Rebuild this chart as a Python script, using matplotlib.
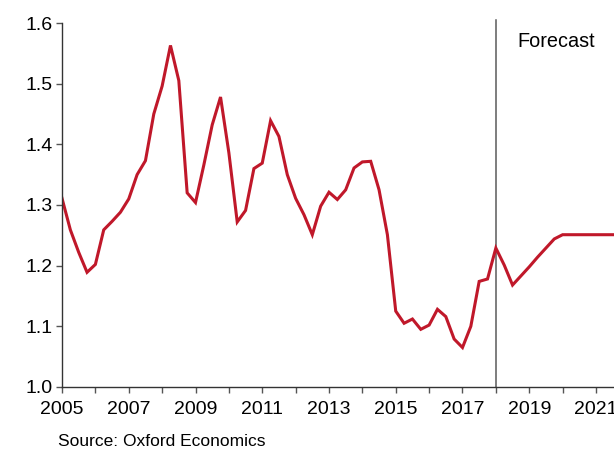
import numpy as np
import matplotlib.pyplot as plt
from matplotlib.ticker import MultipleLocator

plt.rcParams["font.family"] = ["Liberation Sans", "DejaVu Sans"]

# quarterly series, starting 2005 Q1
start_year = 2005
values = [
    1.311, 1.259, 1.222, 1.189,   # 2005
    1.202, 1.259, 1.273, 1.288,   # 2006
    1.310, 1.350, 1.373, 1.450,   # 2007
    1.496, 1.563, 1.505, 1.320,   # 2008
    1.304, 1.366, 1.432, 1.478,   # 2009
    1.386, 1.272, 1.291, 1.360,   # 2010
    1.369, 1.439, 1.413, 1.350,   # 2011
    1.311, 1.284, 1.251, 1.298,   # 2012
    1.321, 1.309, 1.325, 1.361,   # 2013
    1.371, 1.372, 1.325, 1.251,   # 2014
    1.125, 1.105, 1.112, 1.095,   # 2015
    1.102, 1.128, 1.116, 1.079,   # 2016
    1.065, 1.100, 1.174, 1.178,   # 2017
    1.229, 1.201, 1.168, 1.183,   # 2018
    1.198, 1.214, 1.229, 1.244,   # 2019
    1.251, 1.251, 1.251, 1.251,   # 2020
    1.251, 1.251, 1.251, 1.251,   # 2021
    1.251, 1.251, 1.251, 1.251,   # 2022
]
forecast_start = 2018
x = start_year + np.arange(len(values)) / 4

fig = plt.figure(figsize=(6.14, 4.51), dpi=100)
ax = fig.add_axes([0.101, 0.142, 0.899, 0.807])

ax.plot(x, values, color="#c0182a", linewidth=2.2, solid_joinstyle="miter")
ax.plot([forecast_start, forecast_start], [1.0, 1.605], color="#5a5a5a",
        linewidth=1.1, clip_on=False, zorder=1)
ax.text(2018.65, 1.57, "Forecast", fontsize=14.3, va="center", ha="left")

ax.set_xlim(2005, 2021.54)
ax.set_ylim(1.0, 1.6)
ax.xaxis.set_major_locator(MultipleLocator(2, offset=1))
ax.xaxis.set_minor_locator(MultipleLocator(1))
ax.yaxis.set_major_locator(MultipleLocator(0.1))
ax.yaxis.set_major_formatter(plt.FuncFormatter(lambda v, p: f"{v:.1f}"))

for s in ["top", "right"]:
    ax.spines[s].set_visible(False)
for s in ["left", "bottom"]:
    ax.spines[s].set_color("#333333")
    ax.spines[s].set_linewidth(1.0)

ax.tick_params(axis="both", which="both", direction="out", length=4,
               width=1, color="#555555", labelsize=14)
ax.tick_params(axis="x", which="minor", labelbottom=False)
ax.tick_params(axis="x", pad=6)
ax.tick_params(axis="y", pad=3)

fig.text(58 / 614, 1 - 441 / 451, "Source: Oxford Economics",
         fontsize=12.5, va="center", ha="left")

fig.savefig("out.png", dpi=100)
